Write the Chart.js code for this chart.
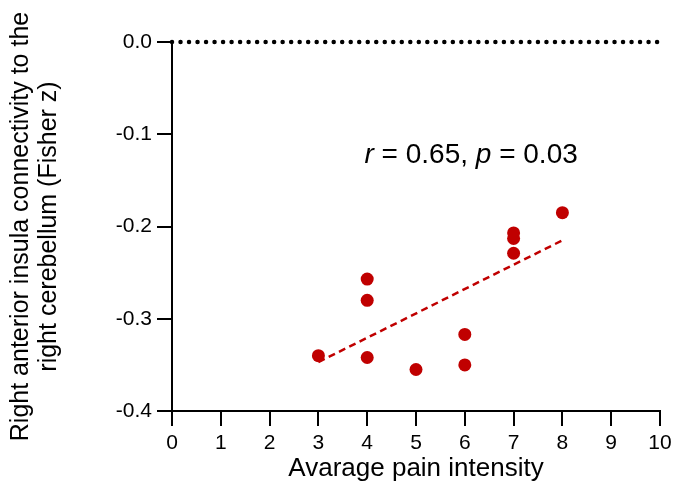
<!DOCTYPE html>
<html>
<head>
<meta charset="utf-8">
<script src="https://cdn.jsdelivr.net/npm/chart.js@4/dist/chart.umd.min.js"></script>
<style>
  html, body { margin: 0; padding: 0; background: #ffffff; }
  #wrap { width: 673px; height: 487px; position: relative; }
</style>
</head>
<body>
<div id="wrap"><canvas id="c" width="673" height="487"></canvas></div>
<script>
// ---- data ----
const painX = [3, 4, 4, 4, 5, 6, 6, 7, 7, 7, 8];
const connY = [-0.340, -0.257, -0.280, -0.342, -0.355, -0.317, -0.350, -0.207, -0.213, -0.229, -0.185];
const fitX = [3, 8];
const fitY = [-0.347, -0.215];
const zeroX = [0, 10];
const zeroY = [0, 0];
const xTickValues = [0, 1, 2, 3, 4, 5, 6, 7, 8, 9, 10];
const yTickValues = [-0.4, -0.3, -0.2, -0.1, 0.0];
const xTitle = 'Avarage pain intensity';
const yTitle = ['Right anterior insula connectivity to the', 'right cerebellum (Fisher z)'];
const statR = '0.65';
const statP = '0.03';

const FONT = "'Liberation Sans', Arial, Helvetica, sans-serif";
const RED = '#c00000';

function pairs(xs, ys) { return xs.map((x, i) => ({ x: x, y: ys[i] })); }

const annotPlugin = {
  id: 'annot',
  afterDatasetsDraw(chart) {
    const ctx = chart.ctx;
    const xs = chart.scales.x, ys = chart.scales.y;
    const cx = xs.getPixelForValue(6.13);
    const by = ys.getPixelForValue(-0.131);
    const size = 28;
    const parts = [
      { t: 'r', it: true },
      { t: ' = ' + statR + ', ', it: false },
      { t: 'p', it: true },
      { t: ' = ' + statP, it: false }
    ];
    ctx.save();
    ctx.fillStyle = '#000';
    ctx.textBaseline = 'alphabetic';
    ctx.textAlign = 'left';
    let total = 0;
    parts.forEach(p => {
      ctx.font = (p.it ? 'italic ' : '') + size + 'px ' + FONT;
      p.w = ctx.measureText(p.t).width;
      total += p.w;
    });
    let x = cx - total / 2;
    parts.forEach(p => {
      ctx.font = (p.it ? 'italic ' : '') + size + 'px ' + FONT;
      ctx.fillText(p.t, x, by);
      x += p.w;
    });
    ctx.restore();
  }
};

new Chart(document.getElementById('c'), {
  type: 'scatter',
  data: {
    datasets: [
      {
        label: 'zero',
        type: 'line',
        data: pairs(zeroX, zeroY),
        borderColor: '#000',
        borderWidth: 4.5,
        borderDash: [0.01, 8.5],
        borderCapStyle: 'round',
        pointRadius: 0,
        fill: false,
        clip: false,
        order: 3
      },
      {
        label: 'fit',
        type: 'line',
        data: pairs(fitX, fitY),
        borderColor: RED,
        borderWidth: 2.5,
        borderDash: [7, 4.5],
        pointRadius: 0,
        fill: false,
        order: 2
      },
      {
        label: 'points',
        data: pairs(painX, connY),
        backgroundColor: RED,
        borderColor: RED,
        borderWidth: 0,
        pointRadius: 6.5,
        order: 1
      }
    ]
  },
  options: {
    responsive: false,
    animation: false,
    devicePixelRatio: 1,
    layout: { padding: { top: 42, right: 13, left: 0, bottom: 0 } },
    plugins: { legend: { display: false }, tooltip: { enabled: false } },
    scales: {
      x: {
        type: 'linear',
        min: 0, max: 10,
        afterFit(s) { s.height = 76; s.paddingRight = 0; s.paddingLeft = 0; },
        afterBuildTicks(s) { s.ticks = xTickValues.map(v => ({ value: v })); },
        ticks: {
          color: '#000',
          font: { family: FONT, size: 21 },
          padding: 5,
          maxRotation: 0,
          autoSkip: false,
          callback: v => String(v)
        },
        grid: { drawOnChartArea: false, drawTicks: true, tickLength: 15, color: '#000', lineWidth: 2 },
        border: { display: true, color: '#000', width: 2 },
        title: { display: true, text: xTitle, color: '#000', font: { family: FONT, size: 26 }, padding: { top: 0, bottom: 3 } }
      },
      y: {
        type: 'linear',
        min: -0.4, max: 0,
        afterFit(s) { s.width = 172; s.paddingTop = 0; s.paddingBottom = 0; },
        afterBuildTicks(s) { s.ticks = yTickValues.map(v => ({ value: v })); },
        ticks: {
          color: '#000',
          font: { family: FONT, size: 21 },
          padding: 5,
          autoSkip: false,
          callback: v => v.toFixed(1).replace('-0.0', '0.0')
        },
        grid: { drawOnChartArea: false, drawTicks: true, tickLength: 15, color: '#000', lineWidth: 2 },
        border: { display: true, color: '#000', width: 2 },
        title: { display: true, text: yTitle, color: '#000', font: { family: FONT, size: 25, lineHeight: 1.12 }, padding: { top: 7, bottom: 0 } }
      }
    }
  },
  plugins: [annotPlugin]
});
</script>
</body>
</html>
